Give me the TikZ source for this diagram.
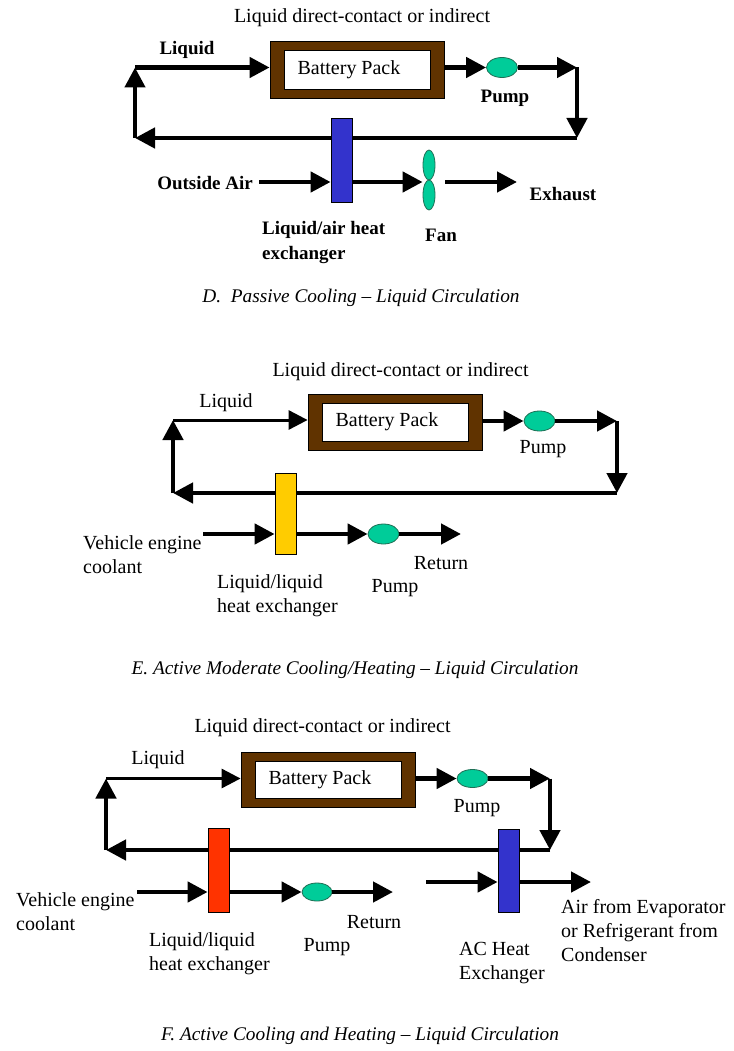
\documentclass[tikz,border=0pt]{standalone}
\usepackage{fontspec}
\setmainfont{Liberation Serif}
\usetikzlibrary{arrows.meta,shapes.geometric}
\definecolor{packbrown}{HTML}{603300}
\definecolor{pumpgreen}{HTML}{00CC99}
\definecolor{pumpedge}{HTML}{1F6F55}
\definecolor{hxblue}{HTML}{3333CC}
\definecolor{hxyellow}{HTML}{FFCC00}
\definecolor{hxred}{HTML}{FF3300}
\newcommand{\regfont}{\fontsize{20}{24}\selectfont}
\newcommand{\boldfont}{\fontsize{19}{25}\selectfont\bfseries}
\newcommand{\capfont}{\fontsize{19.3}{23}\selectfont\itshape}
\tikzset{
  flow/.style={line width=4.5pt, -{Triangle[length=20pt,width=20pt]}},
  thinflow/.style={line width=3pt, -{Triangle[length=19pt,width=19pt]}},
  reg/.style={font=\regfont, inner sep=0pt},
  boldlbl/.style={font=\boldfont, inner sep=0pt},
  caption/.style={font=\capfont, inner sep=0pt},
  multi/.style={align=left, anchor=west},
  pack/.style={draw=black, line width=0.8pt, fill=packbrown,
    minimum width=174pt, inner sep=0pt, font=\regfont,
    path picture={\fill[white,draw=black,line width=0.6pt]
      ([xshift=14pt,yshift=9pt]path picture bounding box.south west) rectangle
      ([xshift=-14pt,yshift=-9pt]path picture bounding box.north east);}},
  pumpshape/.style={ellipse, draw=pumpedge, fill=pumpgreen, line width=0.8pt,
    minimum width=31pt, minimum height=20pt, inner sep=0pt},
  fanblade/.style={ellipse, draw=pumpedge, fill=pumpgreen, line width=0.8pt,
    minimum width=12pt, minimum height=30pt, inner sep=0pt},
  hxbar/.style={draw=black, line width=0.8pt, minimum width=21pt, inner sep=0pt},
}
\begin{document}
\begin{tikzpicture}[x=1pt,y=-1pt]
\useasboundingbox[fill=white] (0,0) rectangle (733,1051);

% ---------------- D: passive cooling ----------------
\node[reg] (dTitle) at (362,18) {Liquid direct-contact or indirect};
\node[pack, minimum height=57pt] (dPack) at (357,69.5) {\hspace*{-16pt}\raisebox{-2pt}{Battery Pack}};
\node[pumpshape] (dPump) at (502,67.5) {};
\coordinate (dTL) at (135,67.5);
\coordinate (dTR) at (577,67.5);
\coordinate (dBR) at (577,138);
\coordinate (dBL) at (135,138);
\draw[flow] (dTL) -- (dTL -| dPack.west);
\draw[flow] (dPack.east |- dPump) -- (dPump.west);
\draw[flow] (dPump.east) -- (dTR);
\draw[flow] (dTR) -- (dBR);
\draw[flow] (dBR) -- (dBL);
\draw[flow] (dBL) -- (dTL);
\node[hxbar, fill=hxblue, minimum height=84pt] (dHX) at (341.5,160) {};
\coordinate (dAirIn) at (259,182);
\node[fanblade] (dFanTop) at (429,165) {};
\node[fanblade] (dFanBot) at (429,195) {};
\coordinate (dExhStart) at (445,182);
\coordinate (dExhEnd) at (517,182);
\draw[flow] (dAirIn) -- (dAirIn -| dHX.west);
\draw[flow] (dHX.east |- dAirIn) -- (dAirIn -| dFanTop.west);
\draw[flow] (dExhStart) -- (dExhEnd);
\node[boldlbl] (dLiquid) at (187,50) {Liquid};
\node[boldlbl] (dPumpLbl) at (505,98) {Pump};
\node[boldlbl, anchor=east] (dAirLbl) at (253,183) {Outside Air};
\node[boldlbl] (dExhLbl) at (563,194) {Exhaust};
\node[boldlbl, multi] (dHXLbl) at (262,243) {Liquid/air heat\\exchanger};
\node[boldlbl] (dFanLbl) at (441,235) {Fan};
\node[caption] (dCap) at (361,298) {D.\ \ Passive Cooling -- Liquid Circulation};

% ---------------- E: active moderate cooling/heating ----------------
\node[reg] (eTitle) at (400.5,372) {Liquid direct-contact or indirect};
\node[pack, minimum height=56pt] (ePack) at (395,422) {\hspace*{-16pt}\raisebox{-2pt}{Battery Pack}};
\node[pumpshape] (ePump) at (539.5,421) {};
\coordinate (eTL) at (173,420);
\coordinate (eTR) at (617,421);
\coordinate (eBR) at (617,493);
\coordinate (eBL) at (173,493);
\draw[thinflow] (eTL) -- (eTL -| ePack.west);
\draw[flow] (ePack.east |- ePump) -- (ePump.west);
\draw[flow] (ePump.east) -- (eTR);
\draw[flow] (eTR) -- (eBR);
\draw[flow] (eBR) -- (eBL);
\draw[flow] (eBL) -- (eTL);
\node[hxbar, fill=hxyellow, minimum height=81pt] (eHX) at (285.5,513.5) {};
\node[pumpshape] (ePump2) at (383.5,534) {};
\coordinate (eCoolIn) at (203,534);
\coordinate (eReturn) at (461,534);
\draw[flow] (eCoolIn) -- (eCoolIn -| eHX.west);
\draw[flow] (eHX.east |- ePump2) -- (ePump2.west);
\draw[flow] (ePump2.east) -- (eReturn);
\node[reg] (eLiquid) at (226,403) {Liquid};
\node[reg] (ePumpLbl) at (543,449) {Pump};
\node[reg, multi] (eCoolLbl) at (83,555) {Vehicle engine\\coolant};
\node[reg, multi] (eHXLbl) at (217,596) {Liquid/liquid\\heat exchanger};
\node[reg] (eReturnLbl) at (441,563) {Return};
\node[reg] (ePump2Lbl) at (395,588) {Pump};
\node[caption] (eCap) at (355,670) {E. Active Moderate Cooling/Heating -- Liquid Circulation};

% ---------------- F: active cooling and heating ----------------
\node[reg] (fTitle) at (322.5,728) {Liquid direct-contact or indirect};
\node[pack, minimum height=55pt] (fPack) at (328,779.5) {\hspace*{-16pt}\raisebox{-2pt}{Battery Pack}};
\node[pumpshape, minimum height=18pt] (fPump) at (472.5,778.5) {};
\coordinate (fTL) at (106,778.5);
\coordinate (fTR) at (550,778.5);
\coordinate (fBR) at (550,850);
\coordinate (fBL) at (106,850);
\draw[thinflow] (fTL) -- (fTL -| fPack.west);
\draw[flow] (fPack.east |- fPump) -- (fPump.west);
\draw[flow] (fPump.east) -- (fTR);
\draw[flow] (fTR) -- (fBR);
\draw[flow] (fBR) -- (fBL);
\draw[flow] (fBL) -- (fTL);
\node[hxbar, fill=hxred, minimum height=84pt] (fHX) at (218.5,870) {};
\node[hxbar, fill=hxblue, minimum height=83pt] (fAC) at (508.5,870.5) {};
\node[pumpshape, minimum width=30pt, minimum height=18pt] (fPump2) at (317,892) {};
\coordinate (fCoolIn) at (137,892);
\coordinate (fReturn) at (393,892);
\coordinate (fAirIn) at (426,882);
\coordinate (fAirOut) at (591,882);
\draw[flow] (fCoolIn) -- (fCoolIn -| fHX.west);
\draw[flow] (fHX.east |- fPump2) -- (fPump2.west);
\draw[flow] (fPump2.east) -- (fReturn);
\draw[flow] (fAirIn) -- (fAirIn -| fAC.west);
\draw[flow] (fAC.east |- fAirOut) -- (fAirOut);
\node[reg] (fLiquid) at (158,760) {Liquid};
\node[reg] (fPumpLbl) at (477,808) {Pump};
\node[reg, multi] (fCoolLbl) at (16,911.5) {Vehicle engine\\coolant};
\node[reg, multi] (fHXLbl) at (149,953.5) {Liquid/liquid\\heat exchanger};
\node[reg] (fReturnLbl) at (374,922) {Return};
\node[reg] (fPump2Lbl) at (327,947) {Pump};
\node[reg, multi] (fACLbl) at (459,963) {AC Heat\\Exchanger};
\node[reg, multi] (fAirLbl) at (561,931) {Air from Evaporator\\or Refrigerant from\\Condenser};
\node[caption] (fCap) at (360,1036) {F. Active Cooling and Heating -- Liquid Circulation};
\end{tikzpicture}
\end{document}
